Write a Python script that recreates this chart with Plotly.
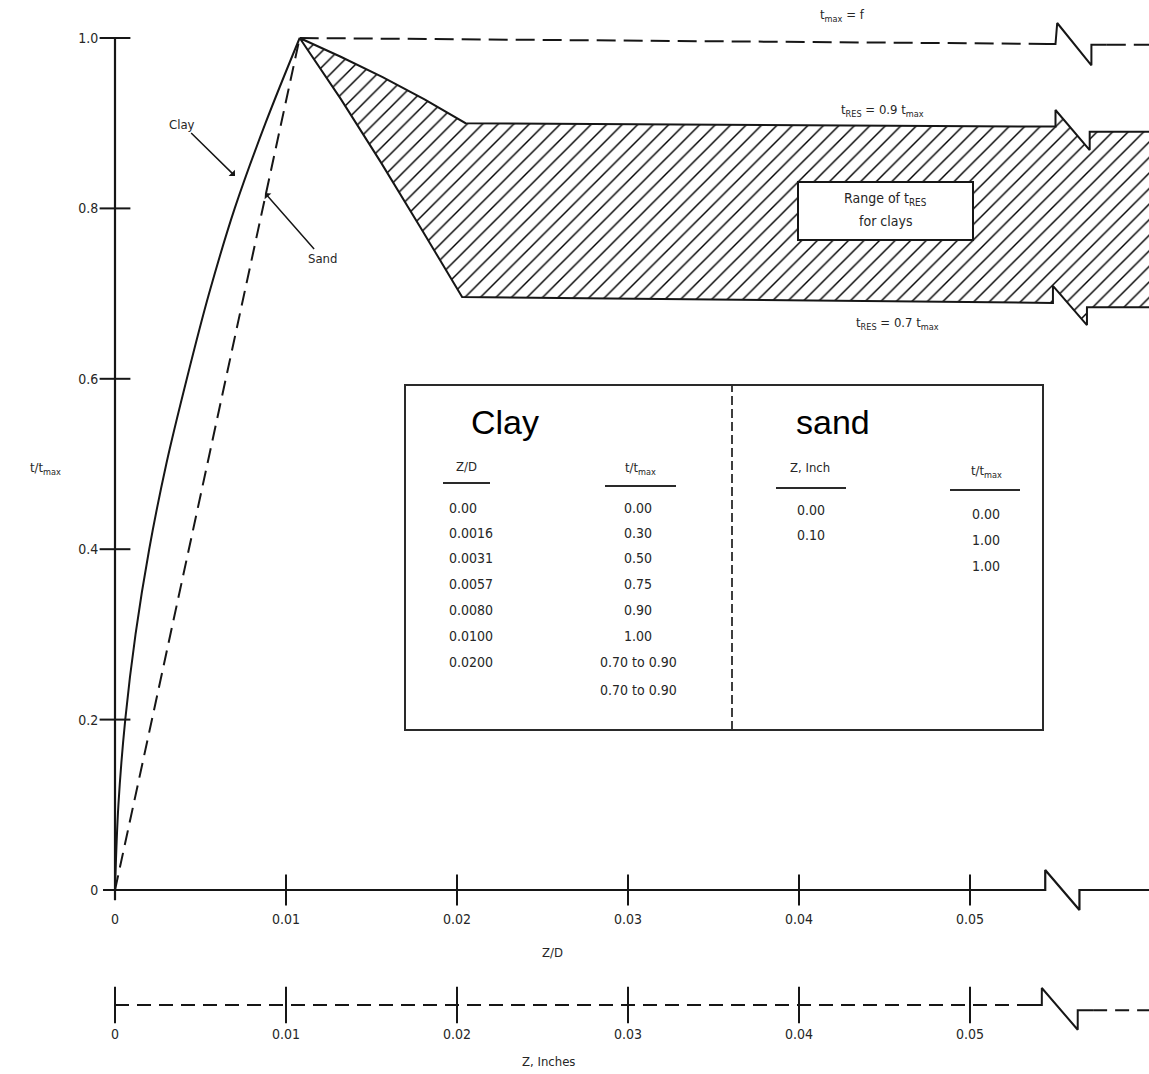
import plotly.graph_objects as go

# ---------------- data ----------------
x_tick_vals = [0, 0.01, 0.02, 0.03, 0.04, 0.05]
x_tick_text = ["0", "0.01", "0.02", "0.03", "0.04", "0.05"]
y_tick_vals = [0, 0.2, 0.4, 0.6, 0.8, 1.0]
y_tick_text = ["0", "0.2", "0.4", "0.6", "0.8", "1.0"]

# clay curve (solid)
clay_zd = [0, 0.0002, 0.0006, 0.0012, 0.0020, 0.0030, 0.0042, 0.0055, 0.0070, 0.0088, 0.0108]
clay_t = [0, 0.1, 0.2, 0.3, 0.4, 0.5, 0.6, 0.7, 0.8, 0.9, 1.0]

# sand curve (dashed)
sand_zd = [0, 0.0108]
sand_t = [0, 1.0]

# t_max = f line (dashed) and its break symbol (solid)
tmax_zd = [0.0108, 0.0550]
tmax_t = [1.0, 0.993]
tmax_break_zd = [0.0545, 0.0550, 0.0551, 0.0571, 0.0571, 0.0580]
tmax_break_t = [0.9931, 0.993, 1.0176, 0.968, 0.992, 0.992]
tmax_tail_zd = [0.0580, 0.0615]
tmax_tail_t = [0.992, 0.992]

# residual band: upper edge (t_RES = 0.9 t_max) and lower edge (t_RES = 0.7 t_max)
upper_zd = [0.0108, 0.0132, 0.01565, 0.0181, 0.0205, 0.0550, 0.0550, 0.0570, 0.0570, 0.0615]
upper_t = [1.0, 0.978, 0.954, 0.928, 0.900, 0.896, 0.9155, 0.8685, 0.890, 0.890]
lower_zd = [0.0108, 0.0132, 0.01555, 0.0179, 0.0203, 0.05485, 0.05485, 0.05684, 0.05684, 0.0615]
lower_t = [1.0, 0.9285, 0.854, 0.7765, 0.696, 0.689, 0.709, 0.663, 0.684, 0.684]

# Z/D axis line with break
zd_axis_x = [-0.0007, 0.0544, 0.0544, 0.0564, 0.0564, 0.0615]
zd_axis_y = [0, 0, 0.0235, -0.0235, 0, 0]

# Z, inches axis line (dashed) with solid break
zin_level = -0.135
zin_dash_x = [0, 0.0539]
zin_break_x = [0.0535, 0.0542, 0.0542, 0.0563, 0.0563, 0.0572]
zin_break_dy = [0, 0, 0.02, -0.029, -0.006, -0.006]
zin_tail_x = [0.0572, 0.0615]

# tables
clay_table_zd = ["0.00", "0.0016", "0.0031", "0.0057", "0.0080", "0.0100", "0.0200"]
clay_table_t = ["0.00", "0.30", "0.50", "0.75", "0.90", "1.00", "0.70 to 0.90", "0.70 to 0.90"]
sand_table_z = ["0.00", "0.10"]
sand_table_t = ["0.00", "1.00", "1.00"]

# ---------------- geometry helpers (pixel layout -> axis units) ----------------
W, H = 1149, 1074
X0PX, XSCALE = 115, 17100.0   # px at Z/D = 0, px per unit
Y0PX, YSCALE = 890, 852.0     # px at t = 0, px per unit


def px(xp):
    return (xp - X0PX) / XSCALE


def py(yp):
    return (Y0PX - yp) / YSCALE


X_RANGE = [px(0), px(W)]
Y_RANGE = [py(H), py(0)]

INK = "#161616"
TXT = "#262626"
FONT = "Liberation Sans Narrow, DejaVu Sans Condensed, Arial Narrow, sans-serif"
BIG = "Liberation Sans, Arial, sans-serif"

fig = go.Figure()


def line(x, y, width=2.0, dash=None, shape="linear", color=INK):
    fig.add_trace(go.Scatter(x=x, y=y, mode="lines", hoverinfo="skip",
                             line=dict(color=color, width=width, dash=dash, shape=shape)))


# hatched residual band
band_x = upper_zd + lower_zd[::-1]
band_y = upper_t + lower_t[::-1]
fig.add_trace(go.Scatter(
    x=band_x, y=band_y, mode="lines", fill="toself",
    fillcolor="white",
    fillpattern=dict(shape="/", size=11, solidity=0.13, fgcolor="#000", fgopacity=1,
                     bgcolor="white", fillmode="replace"),
    line=dict(color=INK, width=2), hoverinfo="skip"))

# t_max line
line(tmax_zd, tmax_t, 2, "19px,8px")
line(tmax_break_zd, tmax_break_t, 2)
line(tmax_tail_zd, tmax_tail_t, 2, "19px,8px")
# clay & sand curves
line(clay_zd, clay_t, 2, shape="spline")
line(sand_zd, sand_t, 2, "15px,8px")

# y axis line + crossing ticks
line([0, 0], [-0.012, 1.0], 2.2)
fig.add_trace(go.Scatter(x=[0] * 5, y=y_tick_vals[1:], mode="markers",
                         marker=dict(symbol="line-ew", size=22, line=dict(color=INK, width=2)),
                         hoverinfo="skip"))
# Z/D axis line + ticks
line(zd_axis_x, zd_axis_y, 2.2)
fig.add_trace(go.Scatter(x=x_tick_vals[1:], y=[0] * 5, mode="markers",
                         marker=dict(symbol="line-ns", size=22, line=dict(color=INK, width=2)),
                         hoverinfo="skip"))
# Z, inches axis line + ticks
line(zin_dash_x, [zin_level] * 2, 2, "14px,8px")
line(zin_break_x, [zin_level + d for d in zin_break_dy], 2)
line(zin_tail_x, [zin_level - 0.006] * 2, 2, "14px,8px")
line([0, 0.0008], [zin_level, zin_level], 2)
fig.add_trace(go.Scatter(x=x_tick_vals, y=[zin_level] * 6, mode="markers",
                         marker=dict(symbol="line-ns", size=26, line=dict(color=INK, width=2)),
                         hoverinfo="skip"))

shapes = []
# "Range of t_RES" box
shapes.append(dict(type="rect", xref="x", yref="y", x0=px(798), x1=px(973), y0=py(240), y1=py(182),
                   line=dict(color=INK, width=2), fillcolor="white", layer="above"))
# table box
shapes.append(dict(type="rect", xref="x", yref="y", x0=px(405), x1=px(1043), y0=py(730), y1=py(385),
                   line=dict(color="#2a2a2a", width=2), fillcolor="white", layer="above"))
shapes.append(dict(type="line", xref="x", yref="y", x0=px(732), x1=px(732), y0=py(730), y1=py(385),
                   line=dict(color="#2a2a2a", width=1.8, dash="9px,4px"), layer="above"))
# header underlines
for (a, b, yy) in [(443, 490, 483), (605, 676, 486), (776, 846, 488), (950, 1020, 490)]:
    shapes.append(dict(type="line", xref="x", yref="y", x0=px(a), x1=px(b), y0=py(yy), y1=py(yy),
                       line=dict(color="#2a2a2a", width=2), layer="above"))

ann = []


def txt(xp, yp, s, size=13, family=FONT, xanchor="center", color=TXT):
    ann.append(dict(x=px(xp), y=py(yp), xref="x", yref="y", text=s, showarrow=False,
                    xanchor=xanchor, yanchor="middle", font=dict(family=family, size=size, color=color)))


# curve / band labels
txt(842, 15, "t<sub>max</sub> = f", 13)
txt(882, 110, "t<sub>RES</sub> = 0.9 t<sub>max</sub>", 13)
txt(897, 323, "t<sub>RES</sub> = 0.7 t<sub>max</sub>", 13)
txt(885, 199, "Range of t<sub>RES</sub>", 14)
txt(885, 221, "for clays", 14)
txt(45, 468, "t/t<sub>max</sub>", 13)
txt(552, 952, "Z/D", 13)
txt(548, 1061, "Z, Inches", 13)

# Clay / Sand pointer labels
ann.append(dict(x=px(235), y=py(176), ax=px(182), ay=py(124), xref="x", yref="y", axref="x", ayref="y",
                text="Clay", showarrow=True, arrowhead=1, arrowsize=1, arrowwidth=1.5, arrowcolor=INK,
                font=dict(family=FONT, size=13, color=TXT)))
ann.append(dict(x=px(265), y=py(193), ax=px(322), ay=py(258), xref="x", yref="y", axref="x", ayref="y",
                text="Sand", showarrow=True, arrowhead=1, arrowsize=1, arrowwidth=1.5, arrowcolor=INK,
                font=dict(family=FONT, size=13, color=TXT)))

# table content
txt(505, 422, "Clay", 34, BIG, color="#000")
txt(833, 422, "sand", 34, BIG, color="#000")
txt(466, 466, "Z/D", 13)
txt(640, 468, "t/t<sub>max</sub>", 13)
txt(810, 467, "Z, Inch", 13)
txt(986, 471, "t/t<sub>max</sub>", 13)
clay_rows = [508, 533, 558, 584, 610, 636, 662, 690]
for s, yy in zip(clay_table_zd, clay_rows):
    txt(447, yy, s, 14, xanchor="left")
for s, yy in zip(clay_table_t, clay_rows):
    txt(638, yy, s, 14)
for s, yy in zip(sand_table_z, [510, 535]):
    txt(811, yy, s, 14)
for s, yy in zip(sand_table_t, [514, 540, 566]):
    txt(986, yy, s, 14)

fig.update_layout(
    width=W, height=H, margin=dict(l=0, r=0, t=0, b=0),
    paper_bgcolor="white", plot_bgcolor="white", showlegend=False,
    shapes=shapes, annotations=ann,
    xaxis=dict(range=X_RANGE, showgrid=False, zeroline=False, showline=False,
               anchor="free", position=(H - Y0PX) / H,
               tickmode="array", tickvals=x_tick_vals, ticktext=x_tick_text,
               ticks="outside", ticklen=16, tickcolor="rgba(0,0,0,0)",
               tickfont=dict(family=FONT, size=14, color=TXT)),
    xaxis2=dict(range=X_RANGE, overlaying="x", showgrid=False, zeroline=False, showline=False,
                anchor="free", position=(H - 1005) / H, side="bottom",
                tickmode="array", tickvals=x_tick_vals, ticktext=x_tick_text,
                ticks="outside", ticklen=16, tickcolor="rgba(0,0,0,0)",
                tickfont=dict(family=FONT, size=14, color=TXT)),
    yaxis=dict(range=Y_RANGE, showgrid=False, zeroline=False, showline=False,
               anchor="free", position=X0PX / W,
               tickmode="array", tickvals=y_tick_vals, ticktext=y_tick_text,
               ticks="outside", ticklen=14, tickcolor="rgba(0,0,0,0)",
               tickfont=dict(family=FONT, size=14, color=TXT)),
)
# empty trace that activates the second (Z, inches) x axis
fig.add_trace(go.Scatter(x=[None], y=[None], xaxis="x2", hoverinfo="skip"))

fig.write_html("out.html", config={"displayModeBar": False},
               post_script="document.body.style.margin='0px';document.body.style.overflow='hidden';")
